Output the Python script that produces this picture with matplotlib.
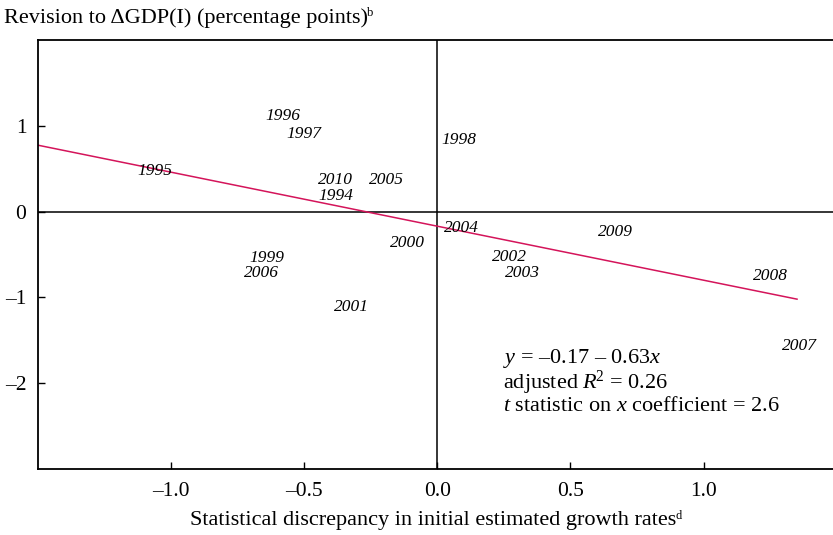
import numpy as np
import matplotlib
matplotlib.use("Agg")
import matplotlib.pyplot as plt

plt.rcParams["font.family"] = ["Liberation Serif", "DejaVu Serif"]
plt.rcParams["mathtext.fontset"] = "custom"
plt.rcParams["mathtext.rm"] = "Liberation Serif"
plt.rcParams["mathtext.it"] = "Liberation Serif:italic"

####################################
# Data
years = ["1994", "1995", "1996", "1997", "1998", "1999", "2000", "2001", "2002",
         "2003", "2004", "2005", "2006", "2007", "2008", "2009", "2010"]
discrepancy = [-0.38, -1.06, -0.58, -0.50, 0.08, -0.64, -0.11, -0.32, 0.27,
               0.32, 0.09, -0.19, -0.66, 1.36, 1.25, 0.67, -0.38]
revision = [0.18, 0.47, 1.12, 0.91, 0.84, -0.54, -0.37, -1.11, -0.53,
            -0.71, -0.19, 0.37, -0.71, -1.57, -0.75, -0.24, 0.37]

# regression
intercept = -0.17
slope = -0.63
fit_range = [-1.5, 1.35]

xticks = [-1.0, -0.5, 0.0, 0.5, 1.0]
yticks = [-2, -1, 0, 1]

line_color = "#d4145a"

####################################
# Plot
fig = plt.figure(figsize=(8.33, 5.35), dpi=100)
ax = fig.add_axes([37.5 / 833, 1 - 469 / 535, 1 - 37.5 / 833, (469 - 40) / 535])

ax.axhline(0, color="black", lw=1.1, zorder=1)
ax.axvline(0, color="black", lw=1.1, zorder=1)

xfit = np.array(fit_range)
ax.plot(xfit, intercept + slope * xfit, color=line_color, lw=1.1, zorder=2)

for yr, x, y in zip(years, discrepancy, revision):
    ax.text(x, y, yr, ha="center", va="center", style="italic", fontsize=12.5, zorder=3)

ax.text(0.245, -1.71, "$y$ = \u20130.17 \u2013 0.63$x$", fontsize=16, va="center", ha="left")
ax.text(0.245, -2.0, "adjusted $R^{\\!2}$ = 0.26", fontsize=16, va="center", ha="left")
ax.text(0.245, -2.27, "$t$ statistic on $x$ coefficient = 2.6", fontsize=16, va="center", ha="left")

ax.set_xlim(-1.5, 1.485)
ax.set_ylim(-3, 2)
ax.set_xticks(xticks)
ax.set_xticklabels([f"{v:.1f}".replace("-", "\u2013") for v in xticks])
ax.set_yticks(yticks)
ax.set_yticklabels([str(v).replace("-", "\u2013") if v != 0 else "0" for v in yticks])
ax.tick_params(direction="in", length=5, width=1, labelsize=15.5)
ax.tick_params(axis="y", pad=8)
ax.tick_params(axis="x", pad=9.5)
ax.spines["right"].set_visible(False)
for s in ["left", "top", "bottom"]:
    ax.spines[s].set_linewidth(1.3)

# axis titles with small superscript note marks
ylab = fig.text(4 / 833, 1 - 18 / 535, "Revision to \u0394GDP(I) (percentage points)",
                fontsize=16, ha="left", va="center")
xlab = fig.text(433 / 833, 1 - 521 / 535, "Statistical discrepancy in initial estimated growth rates",
                fontsize=16, ha="center", va="center")
fig.canvas.draw()
r = fig.canvas.get_renderer()
for lab, mark in [(ylab, "b"), (xlab, "d")]:
    bb = lab.get_window_extent(renderer=r)
    fig.text((bb.x1 - 1) / fig.bbox.width, (bb.y1 - 4.5) / fig.bbox.height, mark,
             fontsize=9, ha="left", va="center")

fig.savefig("out.png", dpi=100)
